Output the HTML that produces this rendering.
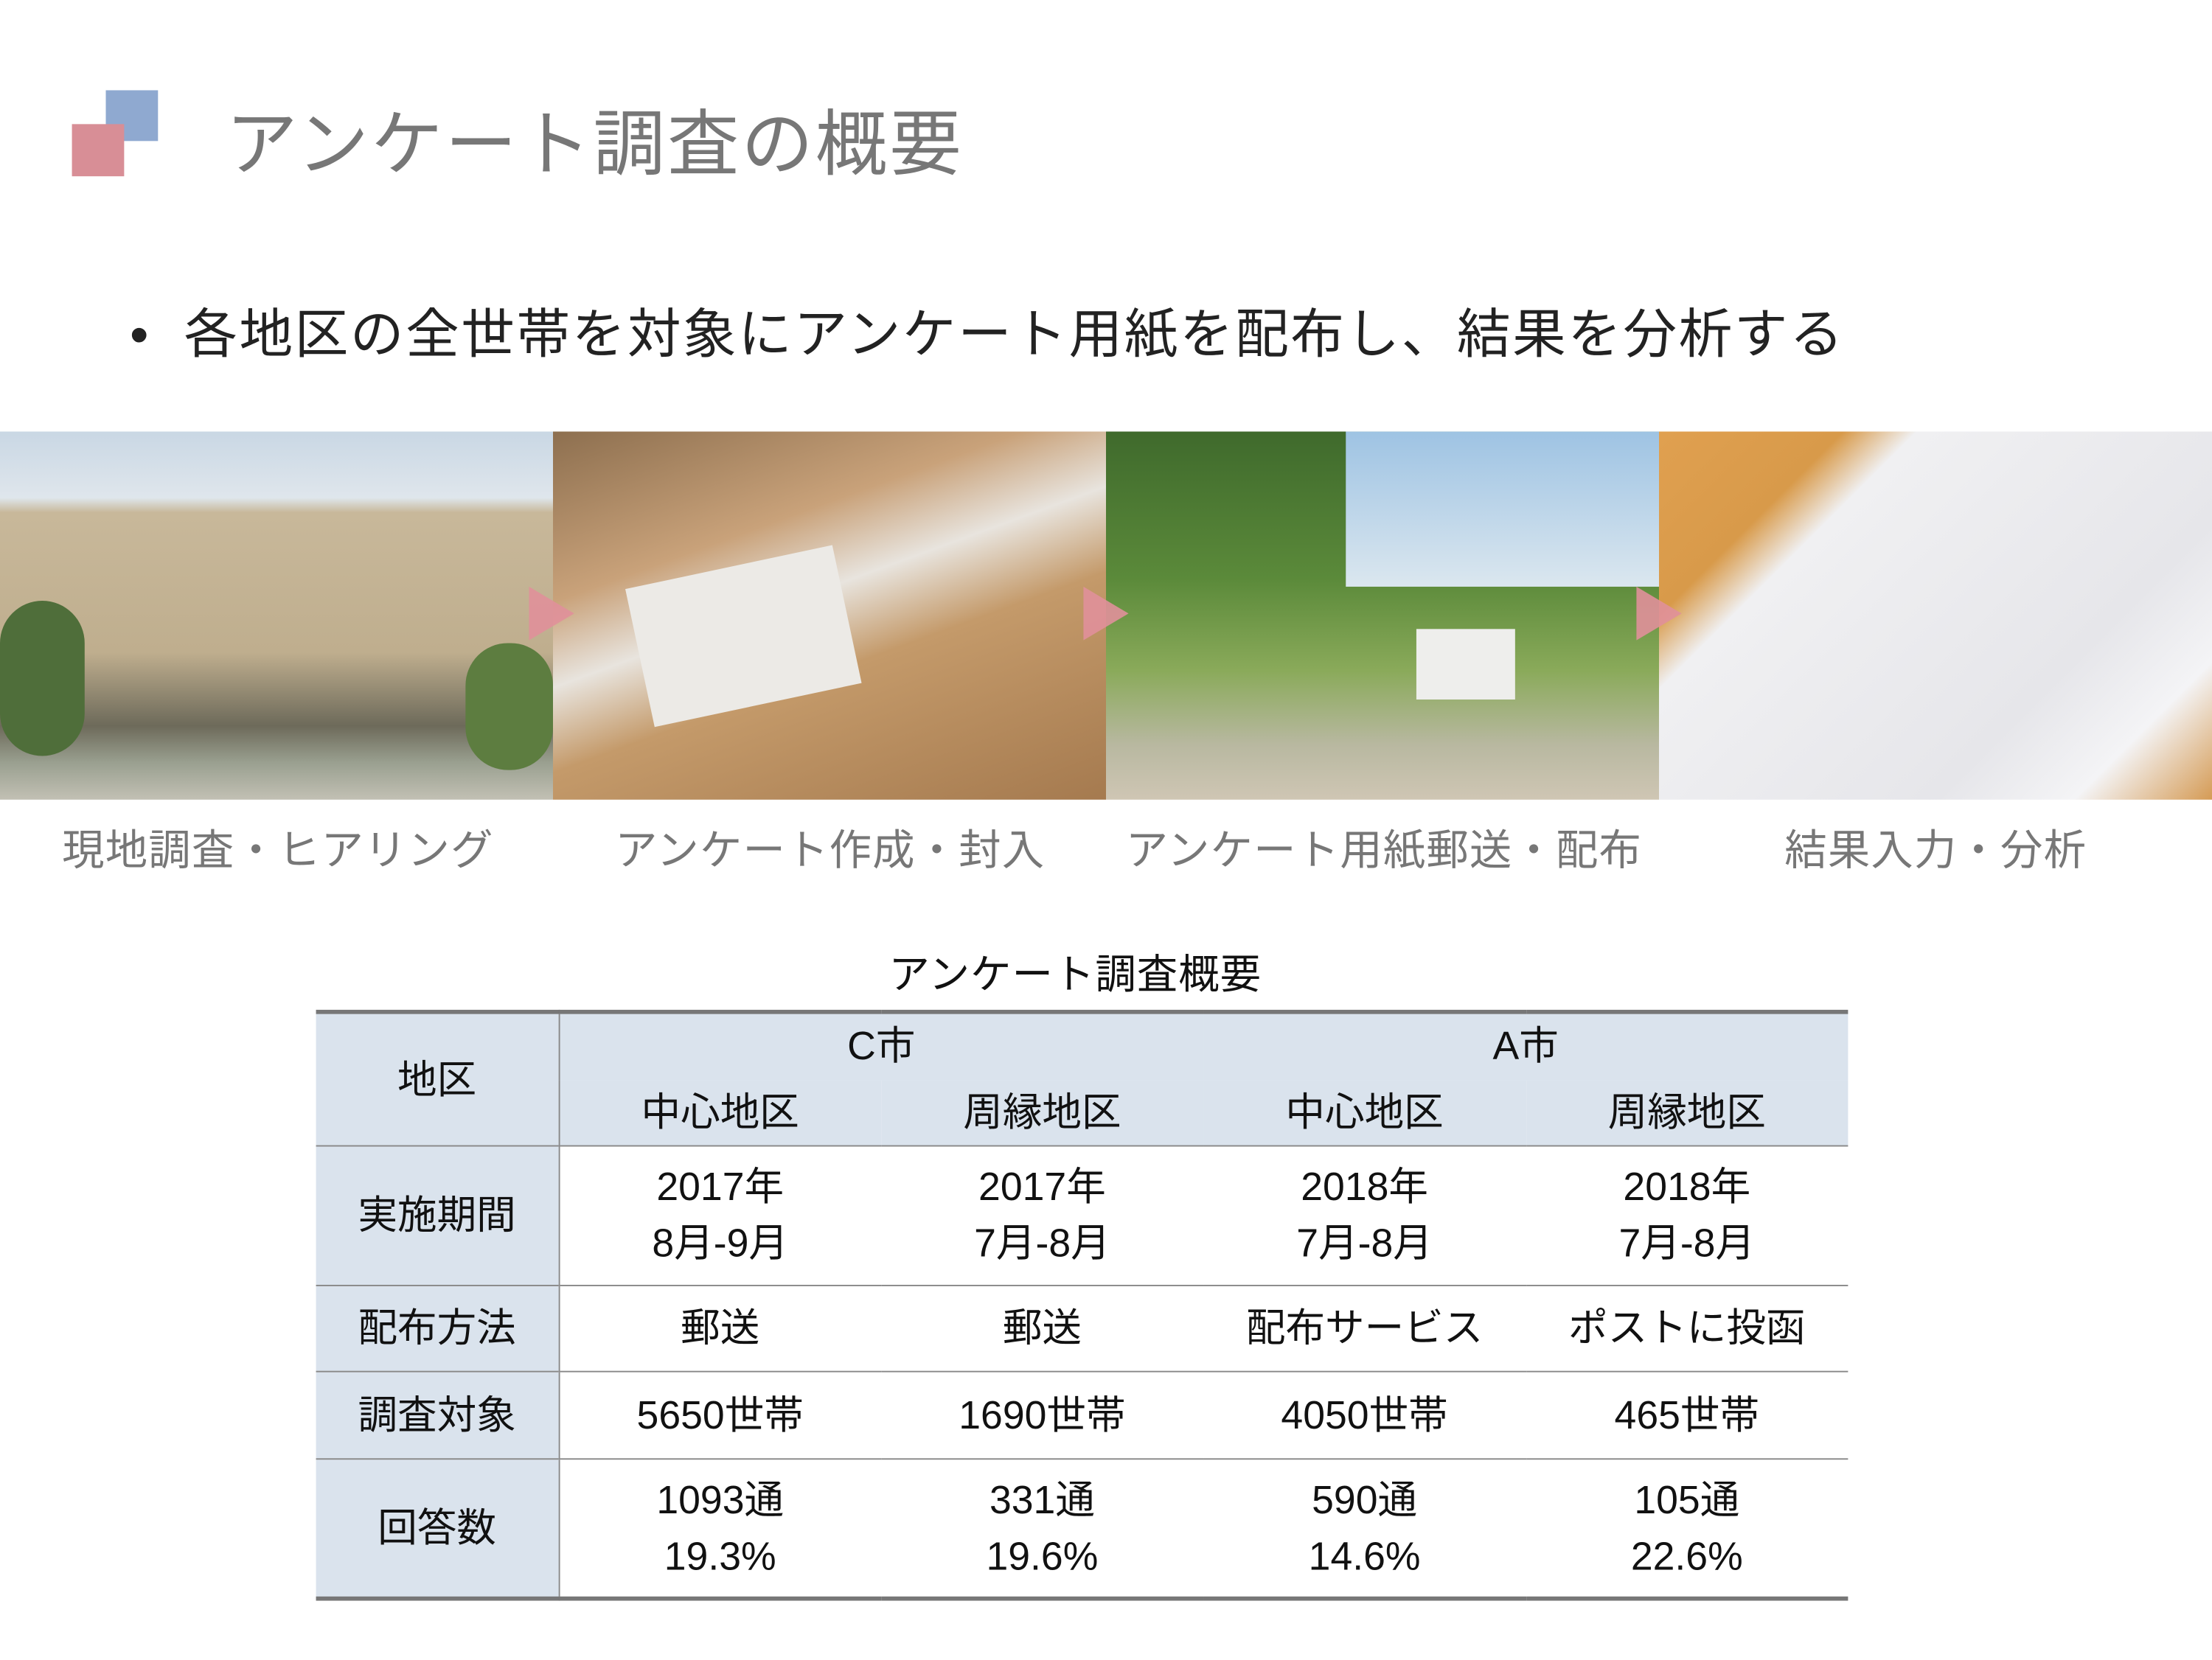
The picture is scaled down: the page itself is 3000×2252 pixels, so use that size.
<!DOCTYPE html>
<html><head><meta charset="utf-8"><style>
html,body{margin:0;padding:0;background:#fff;width:3000px;height:2251px;overflow:hidden}
#s{position:absolute;left:0;top:0;width:1568px;height:1177px;transform:scale(1.91327);transform-origin:0 0;font-family:"Liberation Sans","Noto Sans CJK JP",sans-serif}
.a{position:absolute}
.ph{position:absolute;top:306px;width:392px;height:261px;overflow:hidden}
.cap{position:absolute;top:578px;font-size:30px;color:#777;white-space:nowrap}
.tri{position:absolute;width:0;height:0;border-top:19px solid transparent;border-bottom:19px solid transparent;border-left:32px solid #e0909a;opacity:.9;top:416px}
table{position:absolute;left:224px;top:716px;width:1086px;border-collapse:collapse;table-layout:fixed;font-size:28px;color:#111;text-align:center}
td{padding:0;line-height:40px}
.h{background:#dae3ed}
</style></head><body>
<div id="s">
<div class="a" style="left:75px;top:64px;width:37px;height:36px;background:#8fa9d0"></div>
<div class="a" style="left:51px;top:88px;width:37px;height:37px;background:#d88e96"></div>
<div class="a" style="left:160px;top:61px;font-size:51px;letter-spacing:1.5px;color:#777;white-space:nowrap">アンケート調査の概要</div>
<div class="a" style="left:92px;top:206px;font-size:38px;letter-spacing:1.3px;color:#222;white-space:nowrap">•&nbsp; 各地区の全世帯を対象にアンケート用紙を配布し、結果を分析する</div>

<div class="ph" style="left:0;background:linear-gradient(#c9d7e4 0,#dfe6ec 18%,#c8b89a 22%,#bfae8e 60%,#6d6a5a 80%,#9aa090 90%,#c2c0b4 100%)">
<div class="a" style="left:0;top:120px;width:60px;height:110px;background:#4f6e3a;border-radius:30px"></div>
<div class="a" style="left:330px;top:150px;width:62px;height:90px;background:#5d7d40;border-radius:30px"></div>
</div>
<div class="ph" style="left:392px;background:linear-gradient(160deg,#8d6f4f 0,#c9a27a 30%,#e8e4de 45%,#c49a6a 60%,#a57a4f 100%)">
<div class="a" style="left:60px;top:95px;width:150px;height:100px;background:#eceae6;transform:rotate(-12deg)"></div>
</div>
<div class="ph" style="left:784px;background:linear-gradient(#3f6a2c 0,#5b8a3a 40%,#8aaa5a 65%,#b8b8a0 85%,#cfc6b4 100%)">
<div class="a" style="left:170px;top:0;width:222px;height:110px;background:linear-gradient(#9ec3e3,#dbe7ef)"></div>
<div class="a" style="left:220px;top:140px;width:70px;height:50px;background:#eeeeec"></div>
</div>
<div class="ph" style="left:1176px;background:linear-gradient(135deg,#e0a050 0,#d89a4a 20%,#f0f0f2 28%,#e6e6ea 70%,#f4f4f6 85%,#d59b55 100%)"></div>
<div class="tri" style="left:375px"></div>
<div class="tri" style="left:768px"></div>
<div class="tri" style="left:1160px"></div>

<div class="cap" style="left:44px;letter-spacing:.6px">現地調査・ヒアリング</div>
<div class="cap" style="left:436px;letter-spacing:.6px">アンケート作成・封入</div>
<div class="cap" style="left:798px;letter-spacing:.6px">アンケート用紙郵送・配布</div>
<div class="cap" style="left:1265px;letter-spacing:.6px">結果入力・分析</div>

<div class="a" style="left:630px;top:668px;font-size:29px;letter-spacing:.5px;color:#111;white-space:nowrap">アンケート調査概要</div>
<table>
<colgroup><col style="width:172px"><col><col><col><col></colgroup>
<tr style="height:48px;border-top:3px solid #777"><td class="h" rowspan="2" style="border-right:1px solid #888">地区</td><td class="h" colspan="2">C市</td><td class="h" colspan="2">A市</td></tr>
<tr style="height:47px"><td class="h">中心地区</td><td class="h">周縁地区</td><td class="h">中心地区</td><td class="h">周縁地区</td></tr>
<tr style="height:99px;border-top:1.5px solid #888"><td class="h" style="border-right:1px solid #888">実施期間</td><td>2017年<br>8月-9月</td><td>2017年<br>7月-8月</td><td>2018年<br>7月-8月</td><td>2018年<br>7月-8月</td></tr>
<tr style="height:61px;border-top:1.5px solid #888"><td class="h" style="border-right:1px solid #888">配布方法</td><td>郵送</td><td>郵送</td><td>配布サービス</td><td>ポストに投函</td></tr>
<tr style="height:62px;border-top:1.5px solid #888"><td class="h" style="border-right:1px solid #888">調査対象</td><td>5650世帯</td><td>1690世帯</td><td>4050世帯</td><td>465世帯</td></tr>
<tr style="height:99px;border-top:1.5px solid #888;border-bottom:3px solid #777"><td class="h" style="border-right:1px solid #888">回答数</td><td>1093通<br>19.3%</td><td>331通<br>19.6%</td><td>590通<br>14.6%</td><td>105通<br>22.6%</td></tr>
</table>
</div>
</body></html>
